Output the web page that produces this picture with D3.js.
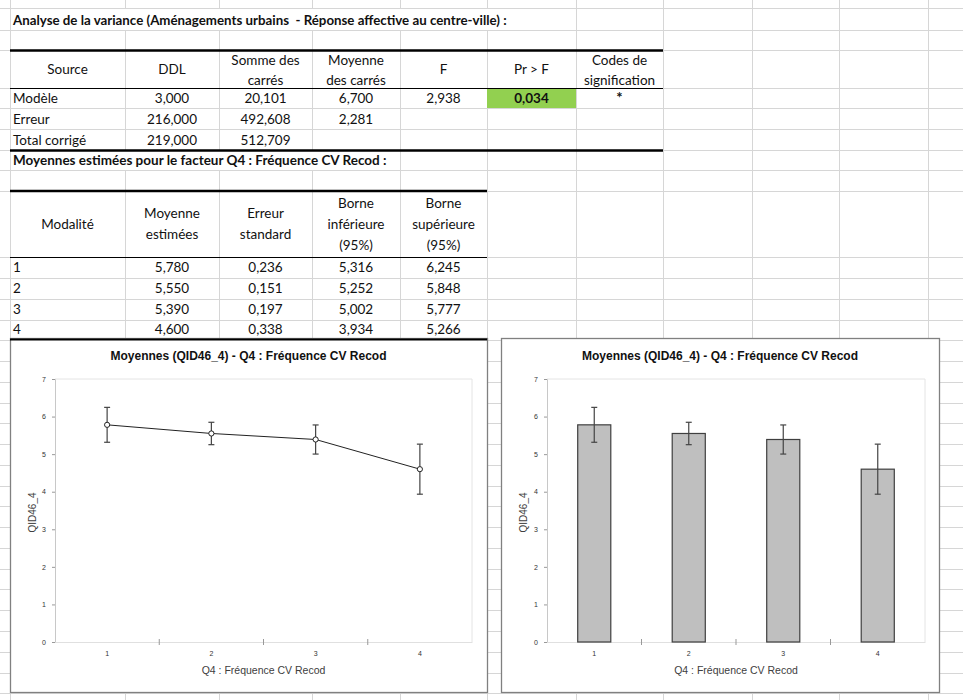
<!DOCTYPE html>
<html><head><meta charset="utf-8">
<script src="https://cdn.jsdelivr.net/npm/d3@7"></script>
<style>
html,body{margin:0;padding:0;background:#fff;}
svg{display:block;}
text{white-space:pre;}
</style></head>
<body><svg id="c" width="963" height="700"></svg>
<script>
// ---------- DATA ----------
const sheetTitle = "Analyse de la variance (Aménagements urbains  - Réponse affective au centre-ville) :";
const anovaHeaders = [["Source"], ["DDL"], ["Somme des", "carrés"], ["Moyenne", "des carrés"], ["F"], ["Pr > F"], ["Codes de", "signification"]];
const anovaSources = ["Modèle", "Erreur", "Total corrigé"];
const anovaDDL = ["3,000", "216,000", "219,000"];
const anovaSS = ["20,101", "492,608", "512,709"];
const anovaMS = ["6,700", "2,281", ""];
const anovaF = ["2,938", "", ""];
const anovaP = ["0,034", "", ""];
const anovaCodes = ["*", "", ""];

const meansTitle = "Moyennes estimées pour le facteur Q4 : Fréquence CV Recod :";
const meansHeaders = [["Modalité"], ["Moyenne", "estimées"], ["Erreur", "standard"], ["Borne", "inférieure", "(95%)"], ["Borne", "supérieure", "(95%)"]];
const categories = ["1", "2", "3", "4"];
const means = [5.780, 5.550, 5.390, 4.600];
const stdErr = [0.236, 0.151, 0.197, 0.338];
const lower = [5.316, 5.252, 5.002, 3.934];
const upper = [6.245, 5.848, 5.777, 5.266];
const yTicks = [0, 1, 2, 3, 4, 5, 6, 7];

const chartTitle = "Moyennes (QID46_4) - Q4 : Fréquence CV Recod";
const xTitle = "Q4 : Fréquence CV Recod";
const yTitle = "QID46_4";

// ---------- LAYOUT ----------
const svg = d3.select("#c");
const CELL_FONT = "Lato, 'Liberation Sans', sans-serif";
const CHART_FONT = "'Liberation Sans', Arial, sans-serif";
const fmt = v => d3.format(".3f")(v).replace(".", ",");

const colX = [10, 125, 219, 312, 400, 487, 576, 663, 752, 839, 928];
const rowY = [8, 30, 50, 88, 108, 129, 150, 170, 191, 257, 278, 299, 320, 340];
for (let y = 361; y < 700; y += 20.77) rowY.push(Math.round(y));

svg.append("rect").attr("width", 963).attr("height", 700).attr("fill", "#fff");

// grid
const grid = svg.append("g").attr("stroke", "#d6d6d6").attr("stroke-width", 1).attr("shape-rendering", "crispEdges");
colX.forEach(x => grid.append("line").attr("x1", x + .5).attr("x2", x + .5).attr("y1", 0).attr("y2", 700));
rowY.forEach(y => grid.append("line").attr("x1", 0).attr("x2", 963).attr("y1", y + .5).attr("y2", y + .5));

// overflow text backgrounds
svg.append("rect").attr("x", 11).attr("y", 9).attr("width", 560).attr("height", 21).attr("fill", "#fff");
svg.append("rect").attr("x", 11).attr("y", 151).attr("width", 388).attr("height", 19).attr("fill", "#fff");

// green cell
svg.append("rect").attr("x", 487).attr("y", 88).attr("width", 89).attr("height", 20).attr("fill", "#92d050");

function cellText(x, y, txt, anchor, bold, size) {
  svg.append("text").attr("x", x).attr("y", y).attr("text-anchor", anchor || "start")
    .attr("font-family", CELL_FONT).attr("font-size", size || 13.5).attr("font-weight", bold ? "bold" : "normal")
    .attr("fill", "#111").text(txt);
}

cellText(13, 25, sheetTitle, "start", true, 13.3);

// ANOVA header
const mid = i => (colX[i] + colX[i + 1]) / 2;
anovaHeaders.forEach((lines, i) => {
  const n = lines.length;
  const base = n === 1 ? 74 : 65;
  lines.forEach((l, k) => cellText(mid(i), base + k * 20, l, "middle"));
});
const anovaCols = [anovaDDL, anovaSS, anovaMS, anovaF, anovaP, anovaCodes];
anovaSources.forEach((s, r) => {
  const yb = [103, 124, 145][r];
  cellText(13, yb, s, "start");
  anovaCols.forEach((col, c) => {
    if (col[r]) cellText(mid(c + 1), yb, col[r], "middle", c === 4 || c === 5, c === 5 ? 15 : null);
  });
});

cellText(13, 165, meansTitle, "start", true);
meansHeaders.forEach((lines, i) => {
  const n = lines.length;
  const base = n === 1 ? 229 : n === 2 ? 218 : 208;
  lines.forEach((l, k) => cellText(mid(i), base + k * 21, l, "middle"));
});
categories.forEach((c, r) => {
  const yb = [272, 293, 314, 334][r];
  cellText(13, yb, c, "start");
  [means, stdErr, lower, upper].forEach((arr, k) => cellText(mid(k + 1), yb, fmt(arr[r]), "middle"));
});

// table rules
function rule(x1, x2, y, w) {
  svg.append("line").attr("x1", x1).attr("x2", x2).attr("y1", y).attr("y2", y)
    .attr("stroke", "#000").attr("stroke-width", w);
}
rule(10, 663, 50.5, 2.5);
rule(10, 663, 88.5, 1);
rule(10, 663, 150.5, 2.5);
rule(10, 487, 191, 2.5);
rule(10, 487, 257.5, 1);

// ---------- CHARTS ----------
function drawChart(frame, plot, kind) {
  const g = svg.append("g");
  g.append("rect").attr("x", frame.x0 + .5).attr("y", frame.y0 + .5)
    .attr("width", frame.x1 - frame.x0).attr("height", frame.y1 - frame.y0)
    .attr("fill", "#fff").attr("stroke", "#808080").attr("stroke-width", 1.3);

  const x = d3.scaleBand().domain(categories).range([plot.l, plot.r]).padding(0);
  const y = d3.scaleLinear().domain([0, 7]).range([plot.b, plot.t]);

  // plot area border (top & right)
  g.append("path").attr("d", `M${plot.l},${y(7)}H${plot.r}V${y(0)}`)
    .attr("fill", "none").attr("stroke", "#e4e4e4").attr("stroke-width", 1);

  // title
  g.append("text").attr("x", (frame.x0 + frame.x1) / 2).attr("y", frame.y0 + 22)
    .attr("text-anchor", "middle").attr("font-family", CHART_FONT).attr("font-weight", "bold")
    .attr("font-size", 12).attr("fill", "#111").text(chartTitle);

  // y axis
  const ya = g.append("g").attr("transform", `translate(${plot.l},0)`)
    .call(d3.axisLeft(y).tickValues(yTicks).tickSize(3).tickPadding(6).tickFormat(d3.format("d")));
  ya.select(".domain").attr("stroke", "#c8c8c8");
  ya.selectAll(".tick line").attr("stroke", "#999");
  ya.selectAll("text").attr("font-family", CHART_FONT).attr("font-size", 7).attr("fill", "#333");

  // x axis
  const xa = g.append("g").attr("transform", `translate(0,${y(0)})`)
    .call(d3.axisBottom(x).tickSize(0).tickPadding(9));
  xa.select(".domain").attr("stroke", "#e0e0e0");
  xa.selectAll("text").attr("font-family", CHART_FONT).attr("font-size", 7).attr("fill", "#333");
  // category boundary ticks
  g.selectAll(".btick").data(categories.slice(1)).join("line")
    .attr("x1", d => x(d)).attr("x2", d => x(d))
    .attr("y1", y(0) - 3).attr("y2", y(0) + 3).attr("stroke", "#999").attr("stroke-width", 1);

  // axis titles
  g.append("text").attr("x", (plot.l + plot.r) / 2).attr("y", frame.y0 + 336)
    .attr("text-anchor", "middle").attr("font-family", CHART_FONT).attr("font-size", 10.5)
    .attr("fill", "#404040").text(xTitle);
  g.append("text").attr("transform", `translate(${frame.x0 + 26},${(y(0) + y(7)) / 2 + 2}) rotate(-90)`)
    .attr("text-anchor", "middle").attr("font-family", CHART_FONT).attr("font-size", 10)
    .attr("fill", "#404040").text(yTitle);

  const cx = d => x(d) + x.bandwidth() / 2;
  const idx = categories.map((c, i) => i);

  if (kind === "bar") {
    const bw = x.bandwidth() * 0.35;
    g.selectAll(".bar").data(idx).join("rect")
      .attr("x", i => cx(categories[i]) - bw / 2).attr("y", i => y(means[i]))
      .attr("width", bw).attr("height", i => y(0) - y(means[i]))
      .attr("fill", "#bfbfbf").attr("stroke", "#3f3f3f").attr("stroke-width", 1.2);
  } else {
    g.append("path").datum(idx)
      .attr("d", d3.line().x(i => cx(categories[i])).y(i => y(means[i])))
      .attr("fill", "none").attr("stroke", "#222").attr("stroke-width", 1);
  }

  // error bars
  const eb = g.selectAll(".eb").data(idx).join("g").attr("stroke", "#444").attr("stroke-width", 1.2);
  eb.append("line").attr("x1", i => cx(categories[i])).attr("x2", i => cx(categories[i]))
    .attr("y1", i => y(lower[i])).attr("y2", i => y(upper[i]));
  eb.append("line").attr("x1", i => cx(categories[i]) - 3).attr("x2", i => cx(categories[i]) + 3)
    .attr("y1", i => y(lower[i])).attr("y2", i => y(lower[i]));
  eb.append("line").attr("x1", i => cx(categories[i]) - 3).attr("x2", i => cx(categories[i]) + 3)
    .attr("y1", i => y(upper[i])).attr("y2", i => y(upper[i]));

  if (kind !== "bar") {
    g.selectAll(".pt").data(idx).join("circle")
      .attr("cx", i => cx(categories[i])).attr("cy", i => y(means[i])).attr("r", 2.6)
      .attr("fill", "#fff").attr("stroke", "#222").attr("stroke-width", 1);
  }
}

drawChart({ x0: 10, y0: 338, x1: 487, y1: 692 }, { l: 55, r: 472, t: 379, b: 642 }, "line");
drawChart({ x0: 501, y0: 338, x1: 939, y1: 692 }, { l: 547, r: 925, t: 379, b: 642 }, "bar");

// bottom rule of second table (on top of chart frame)
rule(10, 487, 339.5, 2);
</script>
</body></html>
